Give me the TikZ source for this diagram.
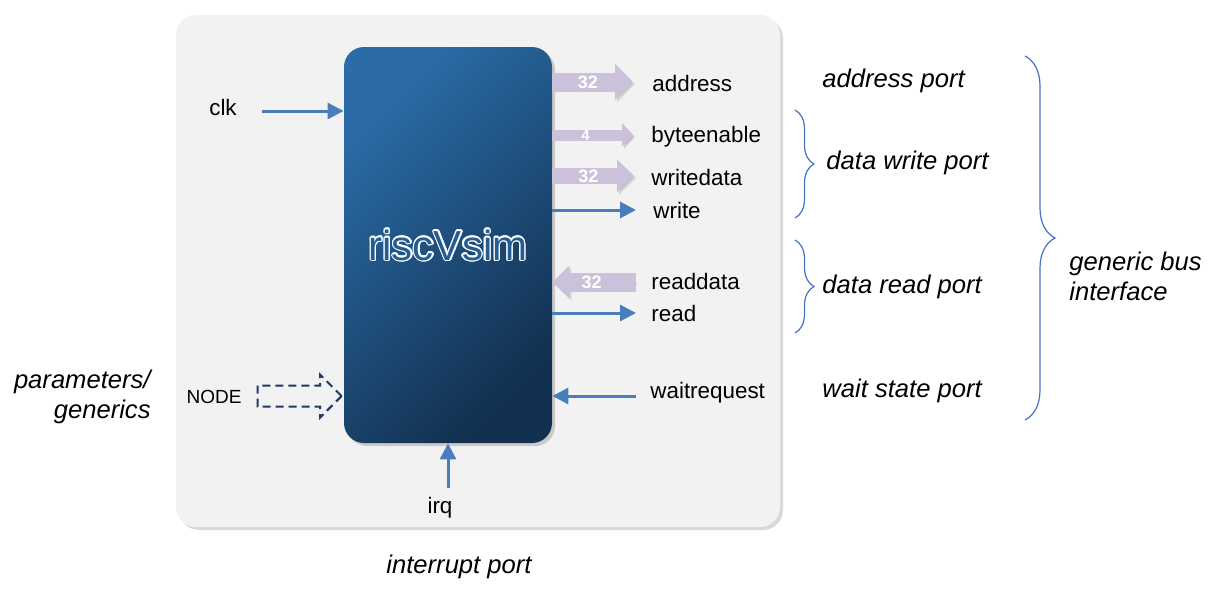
\documentclass[tikz,border=0pt]{standalone}
\usepackage{fontspec}
\setmainfont{Liberation Sans}
\usetikzlibrary{arrows.meta,shapes.arrows,shadows,decorations.pathreplacing}

\definecolor{bgray}{HTML}{F2F2F2}
\definecolor{sigblue}{HTML}{4A7EBB}
\definecolor{busviolet}{HTML}{CCC1DA}
\definecolor{blocktop}{HTML}{2B6CA8}
\definecolor{blockbot}{HTML}{12304F}
\definecolor{blockmid}{HTML}{245C94}
\definecolor{navy}{HTML}{1F3864}
\definecolor{bracecol}{HTML}{4472C4}

\begin{document}
\begin{tikzpicture}[x=0.5pt, y=-0.5pt,
    sig/.style={sigblue, line width=1.5pt, -{Triangle[length=8pt,width=8pt]}},
    bus/.style n args={3}{busviolet, line width=#1, -{Triangle[length=#3, width=#2]},
        preaction={draw=black, opacity=0.12, transform canvas={shift={(1pt,-1pt)}}}},
    buslbl/.style={text=white, inner sep=0pt, font=\bfseries\fontsize{9}{9}\selectfont},
    port/.style={anchor=west, inner sep=0pt, font=\fontsize{11.2}{13}\selectfont},
    group/.style={inner sep=0pt, font=\itshape\fontsize{12.8}{15}\selectfont},
    grp brace/.style={decorate, decoration={brace, amplitude=#1}, bracecol, line width=0.6pt}]
    \useasboundingbox (0,0) rectangle (1213,595);

    % Define the nodes
    \node[fill=bgray, rounded corners=10pt, minimum width=302pt, minimum height=256pt,
        drop shadow={opacity=0.3, shadow xshift=1.5pt, shadow yshift=-1.5pt}] (frame) at (478,271) {};
    \node[rounded corners=10pt, minimum width=104pt, minimum height=198pt,
        top color=blocktop, bottom color=blockbot, shading angle=45,
        drop shadow={opacity=0.35, shadow xshift=1.5pt, shadow yshift=-1.5pt}] (riscv) at (448,245) {};
    \foreach \a in {0,22.5,...,337.5}
        \node[white, font=\fontsize{21}{21}\selectfont, xshift={0.6pt*cos(\a)}, yshift={0.6pt*sin(\a)}] at (riscv.center) {riscVsim};
    \node[blockmid, font=\fontsize{21}{21}\selectfont] (title) at (riscv.center) {riscVsim};

    \node (clk) at (223,107) {\fontsize{11.2}{13}\selectfont clk};
    \node[font=\fontsize{9.5}{11}\selectfont] (nodelbl) at (214,397) {NODE};
    \node (irq) at (440,508) {\fontsize{11.2}{13}\selectfont irq};

    \node[port] (address) at (652,83) {address};
    \node[port] (byteenable) at (651,137) {byteenable};
    \node[port] (writedata) at (651,177) {writedata};
    \node[port] (write) at (653,210) {write};
    \node[port] (readdata) at (651,281) {readdata};
    \node[port] (read) at (651,313) {read};
    \node[port] (waitrequest) at (650,393) {waitrequest};

    \coordinate (clkin) at (262,111);
    \coordinate (addrtip) at (633,82);
    \coordinate (betip) at (633,135);
    \coordinate (wdtip) at (634,176);
    \coordinate (rdtail) at (636,282);
    \coordinate (wrout) at (636,210);
    \coordinate (rdout) at (636,313);
    \coordinate (waitin) at (636,396);
    \coordinate (irqin) at (448,488);

    % Bus arrows
    \draw[bus={9.5pt}{17.5pt}{9pt}] (riscv.east |- addrtip) -- (addrtip)
        node[buslbl, pos=0.44] {32};
    \draw[bus={5.5pt}{11.5pt}{5.5pt}] (riscv.east |- betip) -- (betip)
        node[buslbl, pos=0.41, font=\bfseries\fontsize{7.5}{7.5}\selectfont] {4};
    \draw[bus={8pt}{16pt}{8.5pt}] (riscv.east |- wdtip) -- (wdtip)
        node[buslbl, pos=0.44] {32};
    \draw[bus={9.5pt}{16pt}{8.5pt}] (rdtail) -- (rdtail -| riscv.east)
        node[buslbl, pos=0.53] {32};
    \node[single arrow, draw=navy, dashed, line width=1pt, dash pattern=on 4pt off 2.5pt,
        inner xsep=0pt, inner ysep=4.75pt, minimum width=0pt,
        anchor=tip, minimum height=42pt, single arrow head extend=5.5pt] (nodearrow) at (343,396) {};

    % Draw the edges
    \draw[sig] (clkin) -- (clkin -| riscv.west);
    \draw[sig] (wrout -| riscv.east) -- (wrout);
    \draw[sig] (rdout -| riscv.east) -- (rdout);
    \draw[sig] (waitin) -- (waitin -| riscv.east);
    \draw[sig] (irqin) -- (riscv.south);

    % Port groups
    \node[group, anchor=west] (addrport) at (822,81) {address port};
    \node[group, anchor=west] (wrport) at (826,163) {data write port};
    \node[group, anchor=west] (rdport) at (822,287) {data read port};
    \node[group, anchor=west] (waitport) at (822,391) {wait state port};
    \node[group, anchor=west, align=left] (busif) at (1069,276) {generic bus\\interface};
    \node[group, anchor=east, align=right] (params) at (151,397) {parameters/\\generics};
    \node[group] (irqport) at (459,567) {interrupt port};

    \draw[grp brace=9.5pt] (795,110) -- (795,218);
    \draw[grp brace=9.5pt] (795,240) -- (795,333);
    \draw[grp brace=15pt] (1025,56) -- (1025,420);
\end{tikzpicture}
\end{document}
